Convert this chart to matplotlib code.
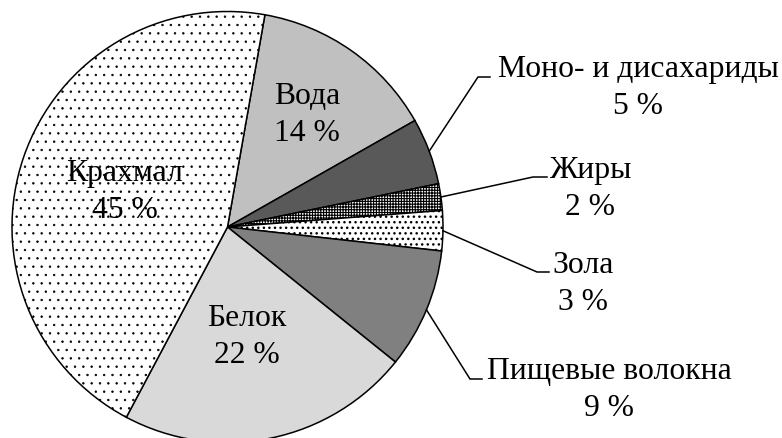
import matplotlib
matplotlib.use("Agg")
import matplotlib.pyplot as plt
import numpy as np

labels = ["Вода", "Моно- и дисахариды", "Жиры", "Зола", "Пищевые волокна", "Белок", "Крахмал"]
values = [14, 5, 2, 3, 9, 22, 45]
colors = ["#c0c0c0", "#595959", "white", "white", "#808080", "#d9d9d9", "white"]
hatches = [None, None, "++++++", "...", None, None, ".."]
hatch_lw = [0.8, 0.8, 0.8, 1.0, 0.8, 0.8, 0.5]

plt.rcParams["font.family"] = "serif"
plt.rcParams["font.serif"] = ["Liberation Serif", "Times New Roman", "DejaVu Serif"]
plt.rcParams["hatch.linewidth"] = 0.8

H = 439
cx, cy, R = 227.5, H - 228, 215.5
start = 80

fig = plt.figure(figsize=(7.82, 4.39), dpi=100)
ax = fig.add_axes([0, 0, 1, 1])
wedges, _ = ax.pie(values, startangle=start, counterclock=False, colors=colors,
                   center=(cx, cy), radius=R,
                   wedgeprops=dict(edgecolor="black", linewidth=1.1))
for w, h, hl in zip(wedges, hatches, hatch_lw):
    if h:
        w.set_hatch(h)
        if hasattr(w, "set_hatch_linewidth"):
            w.set_hatch_linewidth(hl)
ax.set_xlim(0, 782)
ax.set_ylim(0, H)
ax.axis("off")

fs = 22.8
ls = 1.32

# labels inside the pie (pixel positions, y from top)
inside = {0: (307, 115), 5: (247, 337), 6: (125, 192)}
for i, (x, y) in inside.items():
    ax.text(x, H - y, f"{labels[i]}\n{values[i]} %", ha="center", va="center",
            fontsize=fs, linespacing=ls)

# outside labels with leader lines: elbow, end of line, text centre
outside = {
    1: ((478, 78), (490, 78), (638, 88)),
    2: ((533, 178), (547, 178), (590, 189)),
    3: ((537, 273), (549, 273), (583, 284)),
    4: ((470, 380), (482, 380), (609, 390)),
}
cum = np.cumsum([0] + values)
for i, (elbow, end, txt) in outside.items():
    mid = np.deg2rad(start - 3.6 * (cum[i] + cum[i + 1]) / 2)
    x0 = cx + R * np.cos(mid)
    y0 = cy + R * np.sin(mid)
    ax.plot([x0, elbow[0], end[0]], [y0, H - elbow[1], H - end[1]],
            color="black", lw=1.1, solid_joinstyle="miter")
    ax.text(txt[0], H - txt[1], f"{labels[i]}\n{values[i]} %", ha="center", va="center",
            fontsize=fs, linespacing=ls)

fig.savefig("out.png", dpi=100)
